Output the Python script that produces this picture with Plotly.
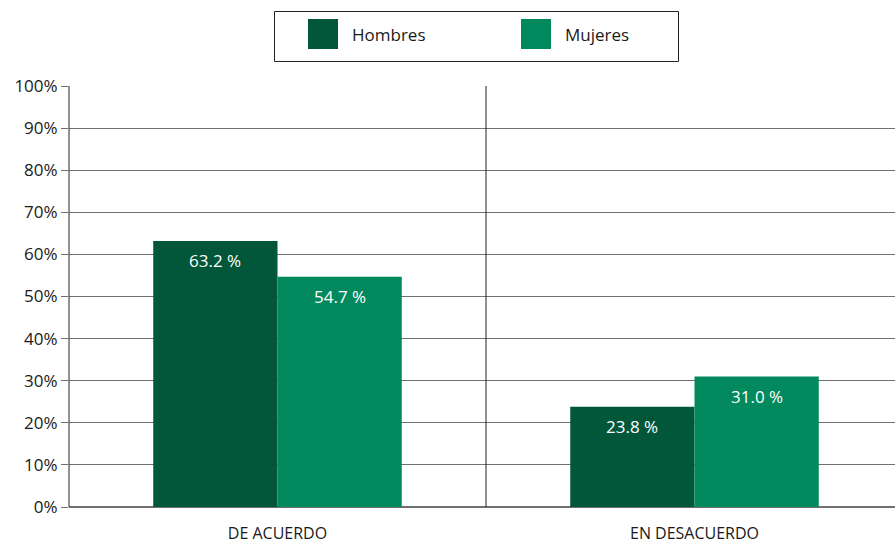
import plotly.graph_objects as go

categories = ["DE ACUERDO", "EN DESACUERDO"]
hombres = [63.2, 23.8]
mujeres = [54.7, 31.0]
series_names = ["Hombres", "Mujeres"]
colors = ["#02573a", "#028a5e"]

FONT = "Open Sans"
W, H = 895, 545
TOP, BOT = 86, 507
L = 69
PW = W - L
CAT_PX = 417  # pixel width of one category in the reference (plot runs past the right edge)

fig = go.Figure()
for name, vals, col in zip(series_names, [hombres, mujeres], colors):
    fig.add_trace(go.Bar(
        x=categories, y=vals, name=name, marker_color=col,
        marker_line_width=0, showlegend=False,
    ))

annotations = []
for i, name in enumerate(series_names):
    vals = [hombres, mujeres][i]
    for j, (c, v) in enumerate(zip(categories, vals)):
        annotations.append(dict(
            x=j + (-0.149 if i == 0 else 0.149), y=v, xref="x", yref="y",
            text=f"{v:.1f} %", showarrow=False, yshift=-20,
            font=dict(family=FONT, size=17, color="white"),
        ))

shapes = []
shapes.append(dict(type="line", xref="x", yref="y", x0=0.5, x1=0.5, y0=-2.6, y1=100,
                   line=dict(color="#222222", width=1)))
shapes.append(dict(type="line", xref="paper", yref="y", x0=0, x1=0, y0=-2.6, y1=100,
                   line=dict(color="#222222", width=1)))

def px(x):
    return (x - L) / PW
def py(y):
    return 1 - (y - TOP) / (BOT - TOP)

shapes.append(dict(type="rect", xref="paper", yref="paper",
                   x0=px(274.5), x1=px(678.5), y0=py(61.5), y1=py(11.5),
                   line=dict(color="#222222", width=1), fillcolor="white"))
legend_pos = [(308, 350), (521, 563)]
for (sx, tx), name, col in zip(legend_pos, series_names, colors):
    shapes.append(dict(type="rect", xref="paper", yref="paper",
                       x0=px(sx), x1=px(sx + 30), y0=py(49), y1=py(19),
                       line=dict(width=0), fillcolor=col))
    annotations.append(dict(x=px(tx), y=py(34), xref="paper", yref="paper",
                            text=name, showarrow=False, xanchor="left", yanchor="middle",
                            font=dict(family=FONT, size=17, color="#1a1a1a")))

fig.update_layout(
    width=W, height=H,
    margin=dict(l=L, r=0, t=TOP, b=H - BOT, autoexpand=False),
    paper_bgcolor="white", plot_bgcolor="white",
    barmode="group", bargap=0.404, bargroupgap=0,
    font=dict(family=FONT, size=17, color="#1a1a1a"),
    shapes=shapes, annotations=annotations,
    xaxis=dict(showgrid=False, showline=False, ticks="", zeroline=False, automargin=False,
               ticklabelstandoff=15, tickfont=dict(family=FONT, size=16, color="#1a1a1a"),
               range=[-0.5, -0.5 + PW / CAT_PX]),
    yaxis=dict(range=[0, 100], dtick=10, ticksuffix="%", showgrid=True, automargin=False,
               gridcolor="#707070", gridwidth=1, zeroline=True, zerolinecolor="#707070",
               zerolinewidth=2, showline=False, ticks="outside", ticklen=7,
               tickcolor="#707070", tickfont=dict(family=FONT, size=17, color="#1a1a1a")),
)

fig.write_html("out.html",
               config={"displayModeBar": False},
               post_script="document.body.style.margin='0';document.body.style.overflow='hidden';")
